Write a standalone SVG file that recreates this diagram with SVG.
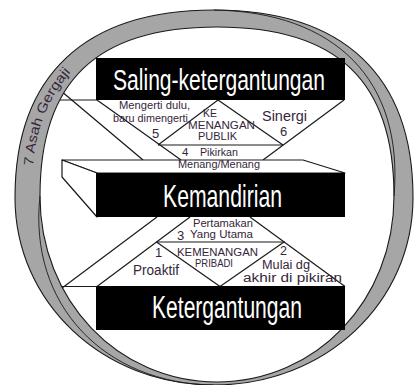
<svg xmlns="http://www.w3.org/2000/svg" width="418" height="385" viewBox="0 0 418 385">
<style>
.ln{stroke:#1a1a1a;stroke-width:1.2;fill:none}
.face{fill:#fff;stroke:#1a1a1a;stroke-width:1.2;stroke-linejoin:round}
.bar{fill:#000}
.big{fill:#fff;font-family:"Liberation Sans Narrow","Liberation Sans",Arial,sans-serif}
.sm{fill:#35263a;font-family:"Liberation Sans Narrow","Liberation Sans",Arial,sans-serif}
.band{fill:#a6a6a6;stroke:#1a1a1a;stroke-width:1.1;fill-rule:evenodd}
.tw{fill:none;stroke:#1a1a1a;stroke-width:0.9}
</style>
<defs>
<clipPath id="innerClip">
<path d="M40,196 C40,81 96.6,27 217,27 C337.4,27 394,81 394,196 C394,300.2 316.1,382 217,382 C117.9,382 40,300.2 40,196 Z"/>
</clipPath>
<path id="ringPath" d="M33,166 C37,118 55,80 100,45"/>
</defs>
<rect width="418" height="385" fill="#fff"/>
<g id="ring">
<path class="band" d="M15,197.5 C15,75.6 84.6,10 214,10 C343.4,10 413,75.6 413,197.5 C413,302.5 325.4,385 214,385 C102.6,385 15,302.5 15,197.5 Z M40,196 C40,81 96.6,27 217,27 C337.4,27 394,81 394,196 C394,300.2 316.1,382 217,382 C117.9,382 40,300.2 40,196 Z"/>
<path class="tw" d="M214,10 C335,12 404,80 394,196"/>
<path class="tw" d="M214,385 C105,384 28,305 40,196"/>
<text class="sm" font-size="13.5" fill="#2a2a2a"><textPath href="#ringPath" textLength="103" lengthAdjust="spacingAndGlyphs">7 Asah Gergaji</textPath></text>
</g>
<g id="connectors" clip-path="url(#innerClip)">
<path class="ln" d="M30,100 H97"/>
<path class="ln" d="M48,80 L143,160"/>
<path class="ln" d="M97,100 L181,160"/>
<path class="ln" d="M218,100 L158,145"/>
<path class="ln" d="M218,100 L283,145"/>
<path class="ln" d="M344,100 L263,160"/>
<path class="ln" d="M158,145 H283"/>
<path class="ln" d="M190,217 L97,286.5"/>
<path class="ln" d="M250,217 L345,286.5"/>
<path class="ln" d="M156.5,242 L220,286.5"/>
<path class="ln" d="M284,242 L220,286.5"/>
<path class="ln" d="M157,217 L40,304.5"/>
<path class="ln" d="M20,286.5 H97"/>
<path class="ln" d="M156,242 H285" stroke-width="3.2"/>
</g>
<g id="bar-saling">
<rect class="bar" x="96" y="58" width="249" height="42"/>
<text class="big" x="113" y="90" font-size="30" textLength="212" lengthAdjust="spacingAndGlyphs">Saling-ketergantungan</text>
</g>
<g id="bar-kemandirian">
<polygon class="face" points="62,160 303,160 345,173 97,173"/>
<polygon class="face" points="62,160 97,173 97,217 62,177"/>
<rect class="bar" x="96" y="173" width="249" height="44"/>
<text class="big" x="163" y="207" font-size="32" textLength="119" lengthAdjust="spacingAndGlyphs">Kemandirian</text>
</g>
<g id="bar-ketergantungan">
<rect class="bar" x="96" y="286" width="249" height="44"/>
<text class="big" x="152" y="318" font-size="31" textLength="150" lengthAdjust="spacingAndGlyphs">Ketergantungan</text>
</g>
<g id="habit-5">
<text class="sm" x="119" y="109" font-size="10.5" textLength="71" lengthAdjust="spacingAndGlyphs">Mengerti dulu,</text>
<text class="sm" x="113" y="122" font-size="10.5" textLength="75" lengthAdjust="spacingAndGlyphs">baru dimengerti</text>
<text class="sm" x="152" y="138" font-size="13">5</text>
</g>
<g id="kemenangan-publik">
<text class="sm" x="203" y="117" font-size="11.5" textLength="14" lengthAdjust="spacingAndGlyphs">KE</text>
<text class="sm" x="188" y="129" font-size="11.5" textLength="67" lengthAdjust="spacingAndGlyphs">MENANGAN</text>
<text class="sm" x="198" y="140" font-size="11.5" textLength="39" lengthAdjust="spacingAndGlyphs">PUBLIK</text>
</g>
<g id="habit-6">
<text class="sm" x="262" y="121" font-size="14" textLength="45" lengthAdjust="spacingAndGlyphs">Sinergi</text>
<text class="sm" x="280" y="136" font-size="13">6</text>
</g>
<g id="habit-4">
<text class="sm" x="182" y="156" font-size="11.5">4</text>
<text class="sm" x="200" y="156" font-size="10.5" textLength="38" lengthAdjust="spacingAndGlyphs">Pikirkan</text>
<text class="sm" x="178" y="168" font-size="10.5" textLength="82" lengthAdjust="spacingAndGlyphs">Menang/Menang</text>
</g>
<g id="habit-3">
<text class="sm" x="193" y="227" font-size="11" textLength="60" lengthAdjust="spacingAndGlyphs">Pertamakan</text>
<text class="sm" x="177" y="240" font-size="13">3</text>
<text class="sm" x="190" y="238" font-size="11" textLength="63" lengthAdjust="spacingAndGlyphs">Yang Utama</text>
</g>
<g id="habit-1">
<text class="sm" x="155" y="257" font-size="13">1</text>
<text class="sm" x="133" y="275" font-size="14" textLength="46" lengthAdjust="spacingAndGlyphs">Proaktif</text>
</g>
<g id="kemenangan-pribadi">
<text class="sm" x="177" y="256" font-size="11.5" textLength="81" lengthAdjust="spacingAndGlyphs">KEMENANGAN</text>
<text class="sm" x="195" y="267" font-size="10.5" textLength="38" lengthAdjust="spacingAndGlyphs">PRIBADI</text>
</g>
<g id="habit-2">
<text class="sm" x="280" y="255" font-size="12.5">2</text>
<text class="sm" x="262" y="269" font-size="12" textLength="48" lengthAdjust="spacingAndGlyphs">Mulai dg</text>
<text class="sm" x="243" y="282" font-size="12" textLength="99" lengthAdjust="spacingAndGlyphs">akhir di pikiran</text>
</g>
</svg>
